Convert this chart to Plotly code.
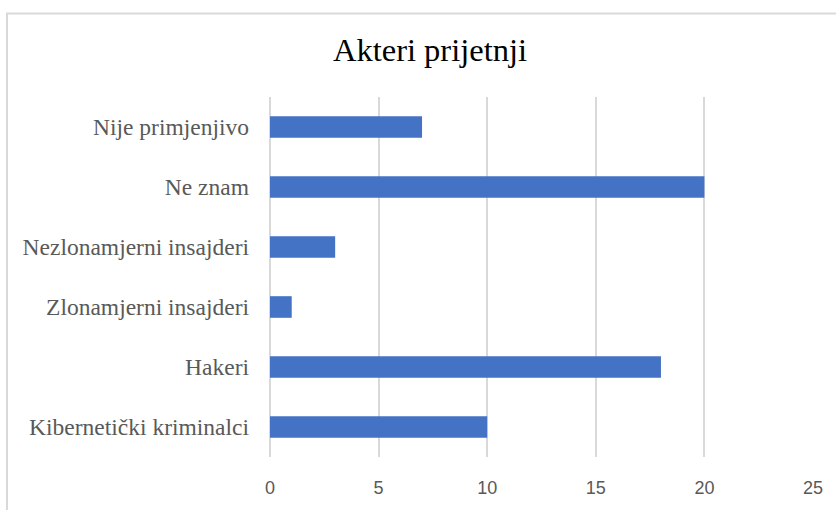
import plotly.graph_objects as go

categories = ["Kibernetički kriminalci", "Hakeri", "Zlonamjerni insajderi",
              "Nezlonamjerni insajderi", "Ne znam", "Nije primjenjivo"]
values = [10, 18, 1, 3, 20, 7]
x_ticks = [0, 5, 10, 15, 20, 25]

W, H = 836, 510
L, R, T, B = 270, 23, 97, 47
pw, ph = W - L - R, H - T - B

SERIF = "Liberation Serif"
SANS = "Liberation Sans"

fig = go.Figure(go.Bar(
    x=values, y=categories, orientation="h",
    marker=dict(color="#4472C4", line=dict(width=0)),
    hoverinfo="x+y",
))

fig.update_layout(
    width=W, height=H,
    margin=dict(l=L, r=R, t=T, b=B),
    paper_bgcolor="white", plot_bgcolor="white",
    bargap=0.64,
    showlegend=False,
    title=dict(text="Akteri prijetnji", x=430 / W, xanchor="center",
               y=1 - 50 / H, yanchor="middle", yref="container",
               font=dict(family=SERIF, size=32.5, color="#000000")),
    xaxis=dict(range=[0, 25], tickvals=x_ticks, ticktext=[str(v) for v in x_ticks],
               showgrid=True, gridcolor="#D9D9D9", gridwidth=1.5,
               zeroline=True, zerolinecolor="#D9D9D9", zerolinewidth=1.5,
               showline=False, ticks="", ticklabelstandoff=18,
               tickfont=dict(family=SANS, size=18, color="#595959")),
    yaxis=dict(categoryorder="array", categoryarray=categories,
               showgrid=False, zeroline=False, showline=False, ticks="",
               ticklabelstandoff=20,
               tickfont=dict(family=SERIF, size=23.5, color="#595959")),
    shapes=[dict(type="rect", xref="paper", yref="paper",
                 x0=(7 - L) / pw, x1=(860 - L) / pw,
                 y0=(H - B - 530) / ph, y1=(H - B - 12) / ph,
                 line=dict(color="#D9D9D9", width=2), fillcolor="rgba(0,0,0,0)", layer="below")],
)

fig.write_html("out.html", config={"displayModeBar": False},
               post_script="document.body.style.margin='0px';document.body.style.padding='0px';")
